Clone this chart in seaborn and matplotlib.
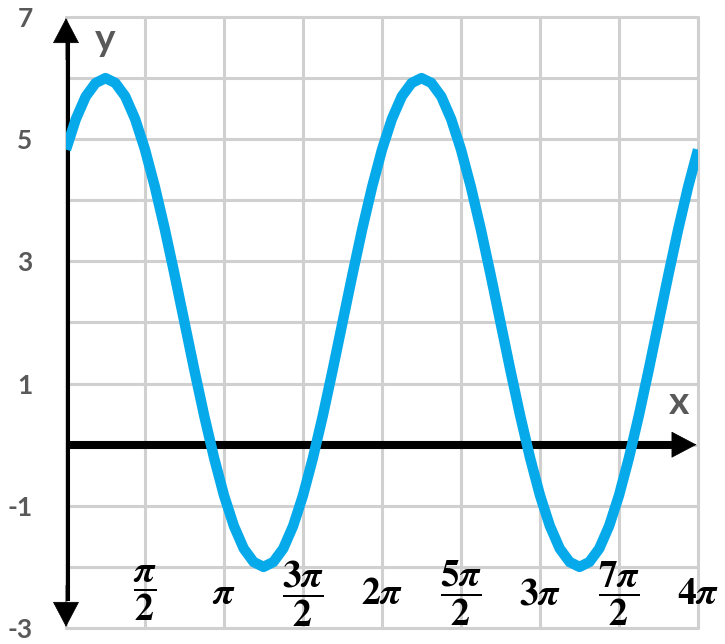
import numpy as np
import matplotlib
matplotlib.use("Agg")
import matplotlib.pyplot as plt
import seaborn as sns

# curve samples, x in steps of pi/16 from 0 to 4*pi
x_steps = list(range(65))
y_values = [4.83, 5.33, 5.70, 5.92, 6.00, 5.92, 5.70, 5.33, 4.83, 4.22, 3.53, 2.78,
            2.00, 1.22, 0.47, -0.22, -0.83, -1.33, -1.70, -1.92, -2.00, -1.92, -1.70,
            -1.33, -0.83, -0.22, 0.47, 1.22, 2.00, 2.78, 3.53, 4.22, 4.83,
            5.33, 5.70, 5.92, 6.00, 5.92, 5.70, 5.33, 4.83, 4.22, 3.53, 2.78,
            2.00, 1.22, 0.47, -0.22, -0.83, -1.33, -1.70, -1.92, -2.00, -1.92, -1.70,
            -1.33, -0.83, -0.22, 0.47, 1.22, 2.00, 2.78, 3.53, 4.22, 4.83]

# x tick positions in multiples of pi/2 and their labels
x_tick_halfpi = [1, 2, 3, 4, 5, 6, 7, 8]
x_tick_labels = [r'$\dfrac{\boldsymbol{\pi}}{\mathbf{2}}$', r'$\boldsymbol{\pi}$',
                 r'$\dfrac{\mathbf{3}\boldsymbol{\pi}}{\mathbf{2}}$', r'$\mathbf{2}\boldsymbol{\pi}$',
                 r'$\dfrac{\mathbf{5}\boldsymbol{\pi}}{\mathbf{2}}$', r'$\mathbf{3}\boldsymbol{\pi}$',
                 r'$\dfrac{\mathbf{7}\boldsymbol{\pi}}{\mathbf{2}}$', r'$\mathbf{4}\boldsymbol{\pi}$']
y_ticks = [-3, -2, -1, 0, 1, 2, 3, 4, 5, 6, 7]
y_tick_labels = ['-3', '', '-1', '', '1', '', '3', '', '5', '', '7']

sns.set_theme(style='white')
plt.rcParams['font.family'] = ['Lato', 'DejaVu Sans']
plt.rcParams['mathtext.fontset'] = 'stix'

fig = plt.figure(figsize=(7.25, 6.44), dpi=100)
ax = fig.add_axes([66/725, 16/644, 632/725, 611/644])

x_vals = [k * np.pi / 16 for k in x_steps]
sns.lineplot(x=x_vals, y=y_values, ax=ax, color='#06AAEA', lw=7.5, zorder=5,
             solid_capstyle='butt')

ax.set_xlim(0, 4 * np.pi)
ax.set_ylim(-3, 7)
ax.set_xticks([k * np.pi / 2 for k in range(9)])
ax.set_xticklabels([])
ax.set_yticks(y_ticks)
ax.set_yticklabels(y_tick_labels, fontsize=19, fontweight='bold', color='#595959')
ax.tick_params(axis='y', length=0, pad=24)
ax.tick_params(axis='x', length=0)
ax.grid(True, color='#D0D0D0', lw=2.2)
for gl in ax.get_xgridlines() + ax.get_ygridlines():
    gl.set_clip_on(False)
for s in ax.spines.values():
    s.set_visible(False)

# axes with arrows
ax.plot([0, 0], [-2.55, 6.6], color='black', lw=5.8, solid_capstyle='butt', zorder=3)
ax.plot([0, 3.9 * np.pi], [0, 0], color='black', lw=5.8, solid_capstyle='butt', zorder=3)
head = dict(arrowstyle='-|>,head_length=0.95,head_width=0.5', color='black', lw=0.5,
            mutation_scale=18, shrinkA=0, shrinkB=0)
ax.annotate('', xy=(0, 6.98), xytext=(0, 6.3), arrowprops=head, zorder=3,
            annotation_clip=False)
ax.annotate('', xy=(0, -2.98), xytext=(0, -2.3), arrowprops=head, zorder=3,
            annotation_clip=False)
ax.annotate('', xy=(3.99 * np.pi, 0), xytext=(3.8 * np.pi, 0), arrowprops=head, zorder=3,
            annotation_clip=False)

ax.text(0.78, 6.63, 'y', fontsize=28, fontweight='bold', color='#595959',
        ha='center', va='center')
ax.text(12.18, 0.69, 'x', fontsize=28, fontweight='bold', color='#595959',
        ha='center', va='center')

for k, lab in zip(x_tick_halfpi, x_tick_labels):
    ax.text(k * np.pi / 2, -2.43, lab, fontsize=27, color='black',
            ha='center', va='center', zorder=6, clip_on=False)

fig.savefig('out.png', dpi=100)
